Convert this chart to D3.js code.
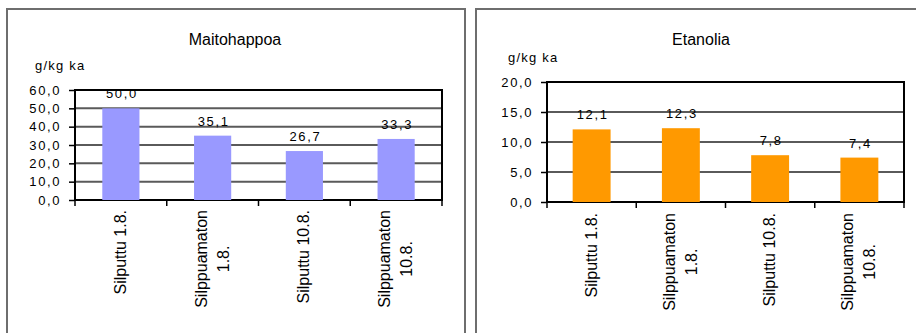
<!DOCTYPE html>
<html>
<head>
<meta charset="utf-8">
<script src="https://cdn.jsdelivr.net/npm/d3@7"></script>
<style>
  html, body { margin: 0; padding: 0; background: #fff; }
  svg { display: block; }
  text { font-family: Arial, "Liberation Sans", sans-serif; fill: #000; }
</style>
</head>
<body>
<svg id="chart" width="916" height="333"></svg>
<script>
// Sample categories (line breaks inside the category labels)
const categories = [
  ["Silputtu 1.8."],
  ["Silppuamaton", "1.8."],
  ["Silputtu 10.8."],
  ["Silppuamaton", "10.8."]
];
// Lactic acid, g/kg DM
const lacticValues = [50.0, 35.1, 26.7, 33.3];
const lacticTicks = [0, 10, 20, 30, 40, 50, 60];
// Ethanol, g/kg DM
const ethanolValues = [12.1, 12.3, 7.8, 7.4];
const ethanolTicks = [0, 5, 10, 15, 20];

const fiLocale = d3.formatLocale({ decimal: ",", thousands: " ", grouping: [3], currency: ["", " €"] });
const fmt = fiLocale.format(".1f");

const svg = d3.select("#chart");

function panel(cfg) {
  const g = svg.append("g");

  // outer frame of the chart object
  g.append("rect")
    .attr("x", cfg.frame[0]).attr("y", cfg.frame[1])
    .attr("width", cfg.frame[2]).attr("height", cfg.frame[3])
    .attr("fill", "#fff").attr("stroke", "#6e6e6e").attr("stroke-width", 2);

  const x = d3.scaleBand()
    .domain(d3.range(categories.length))
    .range([cfg.plot.x0, cfg.plot.x1])
    .padding(0);
  const y = d3.scaleLinear()
    .domain([d3.min(cfg.ticks), d3.max(cfg.ticks)])
    .range([cfg.plot.y1, cfg.plot.y0]);

  // title and unit
  g.append("text")
    .attr("x", cfg.titleX).attr("y", 45)
    .attr("text-anchor", "middle")
    .style("font-size", "16px")
    .text(cfg.title);
  g.append("text")
    .attr("x", cfg.unitX).attr("y", cfg.unitY)
    .style("font-size", "13px").style("letter-spacing", "1.2px")
    .text("g/kg ka");

  // horizontal gridlines
  g.append("g").selectAll("line")
    .data(cfg.ticks.filter(t => t !== d3.min(cfg.ticks) && t !== d3.max(cfg.ticks)))
    .join("line")
    .attr("x1", cfg.plot.x0).attr("x2", cfg.plot.x1)
    .attr("y1", d => y(d)).attr("y2", d => y(d))
    .attr("stroke", "#5a5a5a").attr("stroke-width", 2);

  // plot area border
  g.append("rect")
    .attr("x", cfg.plot.x0).attr("y", cfg.plot.y0)
    .attr("width", cfg.plot.x1 - cfg.plot.x0)
    .attr("height", cfg.plot.y1 - cfg.plot.y0)
    .attr("fill", "none").attr("stroke", "#000").attr("stroke-width", 2);

  // value axis
  const yAxis = d3.axisLeft(y)
    .tickValues(cfg.ticks)
    .tickFormat(fmt)
    .tickSize(6)
    .tickPadding(8);
  const ya = g.append("g")
    .attr("transform", `translate(${cfg.plot.x0},0)`)
    .call(yAxis);
  ya.select(".domain").remove();
  ya.selectAll(".tick line").attr("stroke", "#000").attr("stroke-width", 1.5);
  ya.selectAll(".tick text")
    .style("font-family", "Arial, 'Liberation Sans', sans-serif")
    .style("font-size", "13px")
    .style("letter-spacing", "1.6px")
    .attr("fill", "#000");

  // category axis tick marks at band boundaries
  const bounds = categories.map((c, i) => x(i)).concat([cfg.plot.x1]);
  g.append("g").selectAll("line")
    .data(bounds)
    .join("line")
    .attr("x1", d => d).attr("x2", d => d)
    .attr("y1", cfg.plot.y1).attr("y2", cfg.plot.y1 + 6)
    .attr("stroke", "#000").attr("stroke-width", 1.5);

  // bars
  const bw = x.bandwidth() * cfg.barFrac;
  g.append("g").selectAll("rect")
    .data(cfg.values)
    .join("rect")
    .attr("x", (d, i) => x(i) + x.bandwidth() / 2 - bw / 2)
    .attr("width", bw)
    .attr("y", d => y(d))
    .attr("height", d => y(0) - y(d))
    .attr("fill", cfg.color);

  // value labels
  g.append("g").selectAll("text")
    .data(cfg.values)
    .join("text")
    .attr("x", (d, i) => x(i) + x.bandwidth() / 2 + 1)
    .attr("y", d => y(d) - 10)
    .attr("text-anchor", "middle")
    .style("font-size", "13px")
    .style("letter-spacing", "1.6px")
    .text(d => fmt(d));

  // rotated category labels, block end aligned just below the axis
  const lineGap = 22;
  categories.forEach((lines, i) => {
    const cx = x(i) + x.bandwidth() / 2;
    const lg = g.append("g")
      .attr("transform", `translate(${cx},${cfg.labelTop}) rotate(-90)`);
    const texts = lines.map((ln, j) => lg.append("text")
      .attr("text-anchor", "middle")
      .attr("y", (j - (lines.length - 1) / 2) * lineGap + 5)
      .style("font-size", "16px")
      .text(ln));
    const L = d3.max(texts, t => t.node().getComputedTextLength());
    texts.forEach(t => t.attr("x", -L / 2));
  });
}

panel({
  frame: [7, 9, 458, 340],
  plot: { x0: 75, x1: 442, y0: 90, y1: 200 },
  ticks: lacticTicks,
  values: lacticValues,
  color: "#9999ff",
  title: "Maitohappoa",
  titleX: 235,
  unitX: 35, unitY: 70,
  barFrac: 0.405,
  labelTop: 210
});

panel({
  frame: [476, 9, 460, 340],
  plot: { x0: 547, x1: 904, y0: 82, y1: 202 },
  ticks: ethanolTicks,
  values: ethanolValues,
  color: "#ff9900",
  title: "Etanolia",
  titleX: 701,
  unitX: 508, unitY: 62,
  barFrac: 0.425,
  labelTop: 213
});
</script>
</body>
</html>
